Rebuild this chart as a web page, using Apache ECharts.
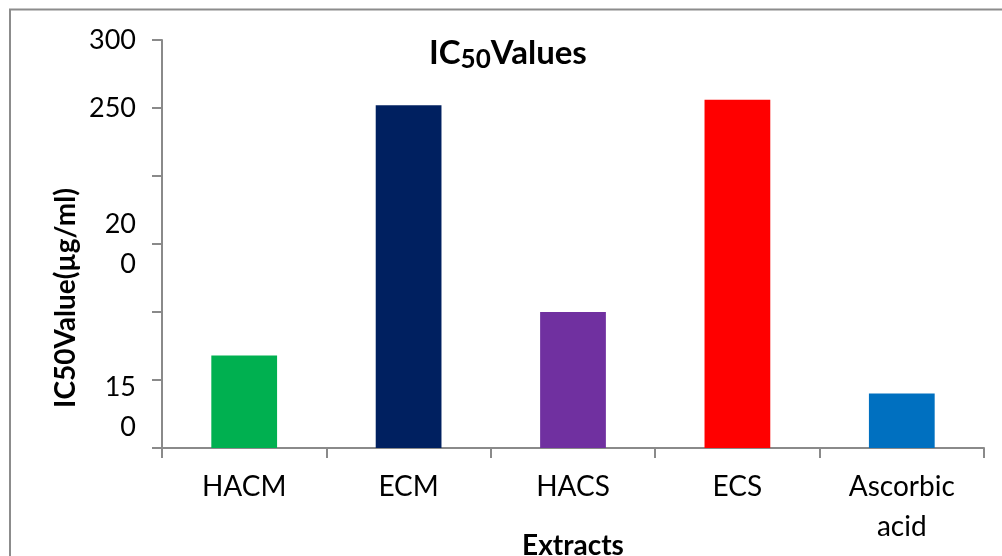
<!DOCTYPE html>
<html>
<head>
<meta charset="utf-8">
<title>IC50 Values</title>
<script src="https://cdn.jsdelivr.net/npm/echarts@6/dist/echarts.min.js"></script>
<style>
  html, body { margin: 0; padding: 0; background: #ffffff; }
  #chart { width: 1002px; height: 556px; }
</style>
</head>
<body>
<div id="chart"></div>
<script>
// Extracts and their IC50 values (µg/ml)
const categories = ['HACM', 'ECM', 'HACS', 'ECS', 'Ascorbic\nacid'];
const ic50Values = [68, 252, 100, 256, 40];

// Value-axis labels, one per 50-unit tick from 0 up to 300
const yTickLabels = ['', '15\n0', '', '20\n0', '', '250', '300'];

// Bar fill colours, one per extract
const barColors = ['#00B050', '#002060', '#7030A0', '#FF0000', '#0070C0'];

const FONT = 'Lato, "Open Sans", sans-serif';
const AXIS_GREY = '#8a8a8a';

const chart = echarts.init(document.getElementById('chart'), null, { renderer: 'canvas' });

chart.setOption({
  backgroundColor: '#ffffff',
  animation: false,
  textStyle: { fontFamily: FONT },
  title: {
    text: '{a|IC}{b|50}{a|Values}',
    left: 429,
    top: 33,
    padding: 0,
    textStyle: {
      rich: {
        a: { fontFamily: FONT, fontSize: 33, fontWeight: 'bold', color: '#000', lineHeight: 40 },
        b: { fontFamily: FONT, fontSize: 26, fontWeight: 'bold', color: '#000', lineHeight: 40, verticalAlign: 'bottom' }
      }
    }
  },
  graphic: [{
    type: 'rect',
    silent: true,
    shape: { x: 10, y: 9.5, width: 1100, height: 700 },
    style: { fill: 'none', stroke: '#8c8c8c', lineWidth: 2 }
  }],
  grid: { left: 162, right: 18, top: 40, bottom: 108, containLabel: false, outerBoundsMode: 'none' },
  xAxis: {
    type: 'category',
    data: categories,
    boundaryGap: true,
    name: 'Extracts',
    nameLocation: 'middle',
    nameGap: 84,
    nameMoveOverlap: false,
    nameTextStyle: { fontFamily: FONT, fontSize: 28, fontWeight: 'bold', color: '#000' },
    axisLine: { show: true, lineStyle: { color: AXIS_GREY, width: 2 } },
    axisTick: { show: true, length: 10, alignWithLabel: false, lineStyle: { color: AXIS_GREY, width: 2 } },
    axisLabel: {
      interval: 0,
      margin: 19,
      fontFamily: FONT,
      fontSize: 28,
      lineHeight: 40,
      color: '#000'
    },
    splitLine: { show: false }
  },
  yAxis: {
    type: 'value',
    min: 0,
    max: 300,
    interval: 50,
    name: 'IC50Value(µg/ml)',
    nameLocation: 'middle',
    nameRotate: 90,
    nameGap: 82,
    nameMoveOverlap: false,
    nameTextStyle: {
      fontFamily: FONT, fontSize: 28, fontWeight: 'bold', color: '#000',
      padding: [0, 108, 0, 0]
    },
    axisLine: { show: true, lineStyle: { color: AXIS_GREY, width: 2 } },
    axisTick: { show: true, length: 10, lineStyle: { color: AXIS_GREY, width: 2 } },
    splitLine: { show: false },
    axisLabel: {
      margin: 26,
      fontFamily: FONT,
      fontSize: 27,
      lineHeight: 40,
      color: '#000',
      formatter: function (value) {
        const idx = Math.round(value / 50);
        const text = yTickLabels[idx] || '';
        // the lowest labelled tick sits its two lines below the tick mark
        return idx === 1 ? '{pad| }\n' + text : text;
      },
      rich: {
        pad: { fontSize: 10, lineHeight: 54 }
      }
    }
  },
  series: [{
    type: 'bar',
    data: ic50Values.map((v, i) => ({ value: v, itemStyle: { color: barColors[i] } })),
    barWidth: '40%'
  }]
});
</script>
</body>
</html>
